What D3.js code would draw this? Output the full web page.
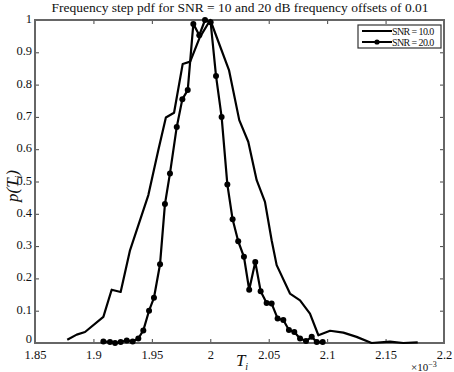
<!DOCTYPE html>
<html>
<head>
<meta charset="utf-8">
<script src="https://cdn.jsdelivr.net/npm/d3@7"></script>
<style>
  body { margin: 0; background: #fff; }
  svg { display: block; font-family: "Liberation Serif", "DejaVu Serif", serif; }
</style>
</head>
<body>
<svg id="chart" width="454" height="372"></svg>
<script>
// SNR = 10 (plain line)
var snr10X = [1.8776, 1.8857, 1.8928, 1.9085, 1.9156, 1.9233, 1.9313, 1.947, 1.9555, 1.962, 1.969,
  1.9764, 1.9828, 1.991, 2.0, 2.016, 2.0248, 2.0325, 2.0397, 2.0468, 2.0525, 2.0568, 2.0682, 2.0768,
  2.0853, 2.0925, 2.1025, 2.1139, 2.1252, 2.138, 2.1538, 2.1652, 2.1775];
var snr10Y = [0.01, 0.026, 0.034, 0.081, 0.165, 0.158, 0.287, 0.458, 0.597, 0.698, 0.713,
  0.864, 0.871, 0.946, 1.0, 0.845, 0.69, 0.623, 0.504, 0.437, 0.318, 0.241, 0.153, 0.132,
  0.091, 0.024, 0.038, 0.032, 0.019, 0.0, 0.004, 0.0, 0.002];

// SNR = 20 (line with dots)
var snr20X = [1.9085, 1.9142, 1.9185, 1.9233, 1.9285, 1.9336, 1.9384, 1.9427, 1.9476, 1.9518,
  1.957, 1.9612, 1.9655, 1.9713, 1.9761, 1.9807, 1.9855, 1.9906, 1.9955, 2.0003, 2.0049, 2.0097,
  2.0146, 2.0191, 2.0239, 2.0288, 2.0333, 2.0385, 2.0431, 2.0482, 2.0525, 2.0576, 2.0625, 2.0673,
  2.0719, 2.0768, 2.0819, 2.0868, 2.0911, 2.0962];
var snr20Y = [0.005, 0.003, 0.0, 0.003, 0.008, 0.005, 0.014, 0.039, 0.1, 0.14,
  0.244, 0.43, 0.525, 0.669, 0.755, 0.783, 0.988, 0.953, 1.0, 0.993, 0.827, 0.70,
  0.491, 0.383, 0.315, 0.267, 0.165, 0.251, 0.16, 0.124, 0.122, 0.076, 0.071, 0.04,
  0.034, 0.014, 0.006, 0.019, 0.003, 0.003];

var xTicks = [1.85, 1.9, 1.95, 2, 2.05, 2.1, 2.15, 2.2];
var yTicks = [0, 0.1, 0.2, 0.3, 0.4, 0.5, 0.6, 0.7, 0.8, 0.9, 1];
var seriesNames = ["SNR = 10.0", "SNR = 20.0"];

var margin = {top: 20, right: 10, bottom: 29, left: 35},
    width = 454 - margin.left - margin.right,
    height = 372 - margin.top - margin.bottom;

var svg = d3.select("#chart");
var g = svg.append("g").attr("transform", "translate(" + margin.left + "," + margin.top + ")");

var x = d3.scaleLinear().domain([1.85, 2.2]).range([0, width]);
var y = d3.scaleLinear().domain([0, 1]).range([height, 0]);

// axes (ticks pointing inward, mirrored on top/right)
function styleAxis(sel) {
  sel.select(".domain").remove();
  sel.selectAll("line").attr("stroke", "#444").attr("stroke-width", 1);
  sel.selectAll("text").attr("fill", "#111").style("font-size", "12.5px")
    .style("font-family", "'Liberation Serif', serif");
}

g.append("g").attr("transform", "translate(0," + height + ")")
  .call(d3.axisBottom(x).tickValues(xTicks).tickSizeInner(-4).tickSizeOuter(0).tickPadding(7)
    .tickFormat(function(d) { return d3.format("")(+d.toFixed(2)); }))
  .call(styleAxis);
g.append("g")
  .call(d3.axisTop(x).tickValues(xTicks).tickSizeInner(-4).tickSizeOuter(0).tickFormat(""))
  .call(styleAxis);
g.append("g")
  .call(d3.axisLeft(y).tickValues(yTicks).tickSizeInner(-4).tickSizeOuter(0).tickPadding(3)
    .tickFormat(function(d) { return d3.format("")(+d.toFixed(1)); }))
  .call(styleAxis)
  .selectAll("text").attr("dy", function(d) { return d === 0 ? "-0.05em" : "0.2em"; });
g.append("g").attr("transform", "translate(" + width + ",0)")
  .call(d3.axisRight(y).tickValues(yTicks).tickSizeInner(-4).tickSizeOuter(0).tickFormat(""))
  .call(styleAxis);

g.append("rect").attr("width", width).attr("height", height)
  .attr("fill", "none").attr("stroke", "#666").attr("stroke-width", 2);

var line = d3.line()
  .x(function(d) { return x(d[0]); })
  .y(function(d) { return y(d[1]); });

var s10 = d3.zip(snr10X, snr10Y);
var s20 = d3.zip(snr20X, snr20Y);

g.append("path").attr("d", line(s10))
  .attr("fill", "none").attr("stroke", "#000").attr("stroke-width", 2.2)
  .attr("stroke-linejoin", "round");

g.append("path").attr("d", line(s20))
  .attr("fill", "none").attr("stroke", "#000").attr("stroke-width", 2.2)
  .attr("stroke-linejoin", "round");

g.selectAll(".dot").data(s20).enter().append("circle")
  .attr("class", "dot")
  .attr("cx", function(d) { return x(d[0]); })
  .attr("cy", function(d) { return y(d[1]); })
  .attr("r", 3).attr("fill", "#000");

// title
svg.append("text").attr("x", 240).attr("y", 12).attr("text-anchor", "middle")
  .style("font-size", "13.5px").attr("fill", "#111")
  .text("Frequency step pdf for SNR = 10 and 20 dB frequency offsets of 0.01");

// axis labels
var xl = svg.append("text").attr("x", 242).attr("y", 366).attr("text-anchor", "middle")
  .style("font-size", "17px").style("font-style", "italic").attr("fill", "#111");
xl.append("tspan").text("T");
xl.append("tspan").attr("dy", 4).style("font-size", "10px").text("i");

var yl = svg.append("text").attr("transform", "translate(18,186) rotate(-90)")
  .attr("text-anchor", "middle").style("font-size", "17px").style("font-style", "italic").attr("fill", "#111");
yl.append("tspan").text("p(T");
yl.append("tspan").attr("dy", 4).style("font-size", "10px").text("i");
yl.append("tspan").attr("dy", -4).text(")");

var ex = svg.append("text").attr("x", 411).attr("y", 371).style("font-size", "11px").attr("fill", "#111");
ex.append("tspan").text("\u00d710");
ex.append("tspan").attr("dy", -4).style("font-size", "8px").text("\u22123");

// legend
var lg = svg.append("g").attr("transform", "translate(358,25)");
lg.append("rect").attr("width", 83).attr("height", 23)
  .attr("fill", "#fff").attr("stroke", "#333").attr("stroke-width", 1.2);
seriesNames.forEach(function(name, i) {
  var yy = 6 + i * 11;
  lg.append("line").attr("x1", 4).attr("x2", 34).attr("y1", yy).attr("y2", yy)
    .attr("stroke", "#000").attr("stroke-width", 2);
  if (i === 1) lg.append("circle").attr("cx", 19).attr("cy", yy).attr("r", 2.6).attr("fill", "#000");
  lg.append("text").attr("x", 34).attr("y", yy + 3.5).style("font-size", "10px")
    .style("letter-spacing", "-0.6px").attr("fill", "#111").text(name);
});
</script>
</body>
</html>
